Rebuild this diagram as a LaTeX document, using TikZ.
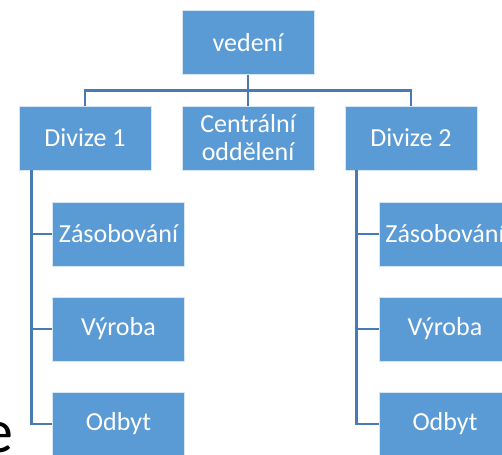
\documentclass[tikz,border=0pt]{standalone}
\usepackage{fontspec}
\setmainfont{Carlito}
\usetikzlibrary{calc}
\definecolor{boxblue}{RGB}{91,155,213}
\definecolor{lineblue}{RGB}{72,122,180}
\tikzset{
  orgbox/.style={rectangle, fill=boxblue, draw=white!75!boxblue, line width=0.8pt,
    minimum width=132pt, minimum height=64pt, inner sep=0pt, text=white, align=center,
    font=\fontsize{26}{28}\selectfont},
  conn/.style={draw=lineblue, line width=2.8pt}
}
\begin{document}
\begin{tikzpicture}[x=1pt,y=-1pt]
\useasboundingbox (0,0) rectangle (502,454);
\clip (0,0) rectangle (502,454);
% top level
\node[orgbox] (v) at (248,42.5) {vedení};
\node[orgbox] (c) at (248,138) {Centrální\\oddělení};
\node[orgbox] (d1) at (85,138) {Divize 1};
\node[orgbox] (d2) at (411,138) {Divize 2};
% left children
\node[orgbox] (z1) at (118.5,234) {Zásobování};
\node[orgbox] (y1) at (118.5,329) {Výroba};
\node[orgbox] (o1) at (118.5,424) {Odbyt};
% right children
\node[orgbox] (z2) at (445,234) {Zásobování};
\node[orgbox] (y2) at (445,329) {Výroba};
\node[orgbox] (o2) at (445,424) {Odbyt};
% stray letter
\node[text=black, font=\fontsize{62}{62}\selectfont, anchor=base, inner sep=0pt] (e) at (-2,452) {e};
% connectors
\coordinate (bus) at ($(v.south)+(0,16)$);
\draw[conn] (v.south) -- (c.north);
\draw[conn] (d1.north) |- (bus) -| (d2.north);
\coordinate (l1) at ($(d1.south west)+(13,0)$);
\coordinate (l2) at ($(d2.south west)+(12,0)$);
\draw[conn] (l1) |- (z1.west);
\draw[conn] (l1) |- (y1.west);
\draw[conn] (l1) |- (o1.west);
\draw[conn] (l2) |- (z2.west);
\draw[conn] (l2) |- (y2.west);
\draw[conn] (l2) |- (o2.west);
\end{tikzpicture}
\end{document}
